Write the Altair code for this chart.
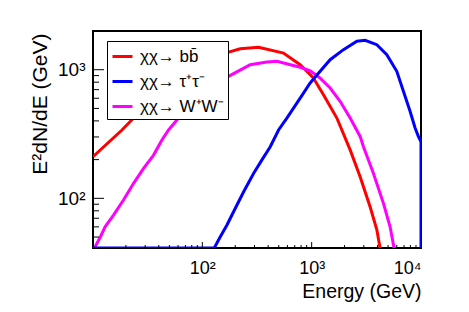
import altair as alt
import pandas as pd

# Axis ranges
Y_MIN, Y_MAX = 41.1, 2000
X_MIN, X_MAX = 10, 10000

series_names = ["\u03c7\u03c7\u2192 bb\u0304", "\u03c7\u03c7\u2192 \u03c4\u207a\u03c4\u207b", "\u03c7\u03c7\u2192 W\u207aW\u207b"]
series_colors = ["#ff0000", "#0000ff", "#ff00ff"]

bb_energy = [10, 18.4, 23.5, 40, 70, 100, 130, 162, 222, 327, 552, 785, 971, 1038, 1282, 1700, 2249, 2775, 3424, 3945, 4226, 4400]
bb_flux = [210.6, 340, 421, 600, 850, 1050, 1230, 1348, 1455, 1494, 1348, 1094, 914, 861, 640, 421, 238, 147, 86, 57, 41, 30]

ww_energy = [10, 10.3, 11.7, 12.9, 15.4, 19.0, 23.5, 29.0, 35.8, 42.7, 49.1, 60.6, 80, 100, 125, 162, 274, 390, 481, 785, 971, 1196, 1476, 1820, 2249, 2775, 2976, 3675, 4534, 5216, 5674, 5800]
ww_flux = [38, 41, 50.3, 60.1, 74.1, 97, 130.8, 171, 217, 284, 340, 421, 537, 631, 741, 861, 1094, 1148, 1162, 1044, 982, 861, 721, 568, 421, 303, 252, 156, 91.4, 60.1, 41, 36]

tt_energy = [10, 128.5, 146, 168, 193, 238, 294, 351, 418, 498, 593, 785, 969, 1196, 1476, 1954, 2590, 3083, 3945, 4865, 6006, 6906, 7943, 8831, 9462, 10000, 10000]
tt_flux = [Y_MIN, Y_MIN, 50.3, 62, 78.7, 112, 156, 199, 252, 340, 421, 602, 789, 972, 1196, 1432, 1664, 1694, 1565, 1309, 972, 680, 475, 352, 303, 275, 30]

y_major = [100, 1000]
y_minor = [50, 60, 70, 80, 90, 200, 300, 400, 500, 600, 700, 800, 900, 2000]
x_major = [100, 1000]
x_minor = [20, 30, 40, 50, 60, 70, 80, 90, 200, 300, 400, 500, 600, 700, 800, 900,
           2000, 3000, 4000, 5000, 6000, 7000, 8000, 9000]

def frame(name, e, f):
    return pd.DataFrame({"series": name, "energy": e, "flux": f, "i": list(range(len(e)))})

df_bb = frame(series_names[0], bb_energy, bb_flux)
df_tt = frame(series_names[1], tt_energy, tt_flux)
df_ww = frame(series_names[2], ww_energy, ww_flux)

W, H = 328, 217

xscale = alt.Scale(type="log", domain=[X_MIN, X_MAX], nice=False)
yscale = alt.Scale(type="log", domain=[Y_MIN, Y_MAX], nice=False)
cscale = alt.Scale(domain=series_names, range=series_colors)

legend = alt.Legend(title=None, orient="none", legendX=14, legendY=10,
                    symbolType="stroke", symbolSize=400, symbolStrokeWidth=3,
                    labelFontSize=17, labelFont="Liberation Sans", labelColor="black",
                    labelOffset=6, rowPadding=5, padding=4, labelLimit=300,
                    strokeColor="black", fillColor="white")

xaxis = alt.Axis(values=[100, 1000, 10000],
                 labelExpr="datum.value == 100 ? '10\u00b2' : datum.value == 1000 ? '10\u00b3' : '10\u2074'",
                 labelFontSize=18, labelPadding=11, title="Energy (GeV)", titleFontSize=19.5,
                 titleAnchor="end", titleAlign="right", titleX=W, titleY=49, titleBaseline="alphabetic")
yaxis = alt.Axis(values=[100, 1000],
                 labelExpr="datum.value == 100 ? '10\u00b2' : '10\u00b3'",
                 labelFontSize=19, labelPadding=8, title="E\u00b2dN/dE (GeV)", titleFontSize=21,
                 titleAngle=270, titleAlign="right", titleBaseline="alphabetic",
                 titleX=-47, titleY=2)

def line(df):
    return alt.Chart(df).mark_line(strokeWidth=3, clip=True).encode(
        x=alt.X("energy:Q", scale=xscale, axis=xaxis),
        y=alt.Y("flux:Q", scale=yscale, axis=yaxis),
        color=alt.Color("series:N", scale=cscale, legend=legend),
        order=alt.Order("i:Q"),
    )

def yticks(vals, length):
    return alt.Chart(pd.DataFrame({"v": vals})).mark_rule(color="black", strokeWidth=1).encode(
        y=alt.Y("v:Q", scale=yscale, axis=yaxis), x=alt.value(0), x2=alt.value(length))

def xticks(vals, length):
    return alt.Chart(pd.DataFrame({"v": vals})).mark_rule(color="black", strokeWidth=1).encode(
        x=alt.X("v:Q", scale=xscale, axis=xaxis), y=alt.value(H), y2=alt.value(H - length))

chart = alt.layer(
    line(df_bb), line(df_ww), line(df_tt),
    yticks(y_major, 11), yticks(y_minor, 6), xticks(x_major, 6), xticks(x_minor, 3),
).properties(
    width=W, height=H,
    autosize=alt.AutoSizeParams(type="none"),
    padding={"left": 85, "top": 23, "right": 40, "bottom": 56},
).configure_view(stroke="black", strokeWidth=2).configure_axis(
    labelFont="Liberation Sans", titleFont="Liberation Sans", labelColor="black",
    titleColor="black", titleFontWeight="normal", grid=False, domain=False, ticks=False,
)

chart.save("out.html", embed_options={"renderer": "svg", "actions": False})
